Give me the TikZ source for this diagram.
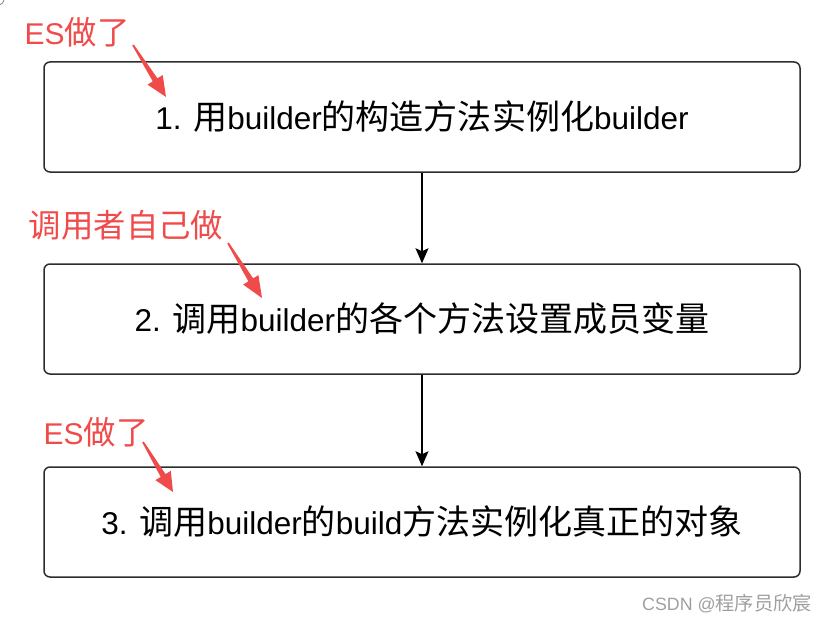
\documentclass[tikz,border=0pt]{standalone}
\usepackage{fontspec}
\setmainfont{Liberation Sans}
\newfontfamily\cjk[Scale=1.08]{Noto Sans CJK SC}
\usetikzlibrary{calc,arrows.meta}
\definecolor{annred}{RGB}{240,75,75}
\definecolor{boxline}{RGB}{45,45,45}
\newcommand{\annarrow}[2]{%
  \fill[annred] ($(#1)!0.9pt!90:(#2)$) -- ($(#1)!0.67!(#2)!2.8pt!90:(#2)$)
    -- ($(#1)!0.67!(#2)!9pt!90:(#2)$) -- (#2)
    -- ($(#1)!0.67!(#2)!9pt!-90:(#2)$) -- ($(#1)!0.67!(#2)!2.8pt!-90:(#2)$)
    -- ($(#1)!0.9pt!-90:(#2)$) -- cycle;}
\begin{document}
\begin{tikzpicture}[x=1pt,y=-1pt,
  stepbox/.style={draw=boxline, line width=1.5pt, rounded corners=6pt,
    minimum width=756pt, minimum height=110pt, inner sep=0pt,
    font=\fontsize{31.5}{36}\selectfont},
  flow/.style={draw=black, line width=1.3pt, -{Stealth[length=15pt,width=13pt,inset=3pt]}},
  annlabel/.style={text=annred, inner sep=0pt, font=\fontsize{30}{34}\selectfont}]
\useasboundingbox (0,0) rectangle (827,623);
\draw[gray, line width=0.8pt] (-2,-1) circle (6pt);
\node[stepbox] (b1) at (422,117) {1. {\cjk 用}builder{\cjk 的构造方法实例化}builder};
\node[stepbox] (b2) at (422,319) {2. {\cjk 调用}builder{\cjk 的各个方法设置成员变量}};
\node[stepbox] (b3) at (422,522) {3. {\cjk 调用}builder{\cjk 的}build{\cjk 方法实例化真正的对象}};
\draw[flow] (b1) -- (b2);
\draw[flow] (b2) -- (b3);
\node[annlabel] (a1) at (77,32) {ES{\cjk 做了}};
\node[annlabel] (a2) at (126,225) {\cjk 调用者自己做};
\node[annlabel] (a3) at (96,432) {ES{\cjk 做了}};
\coordinate (t1) at (133,45); \coordinate (p1) at (166,97);
\coordinate (t2) at (228,243); \coordinate (p2) at (262,298);
\coordinate (t3) at (143,442); \coordinate (p3) at (173,492);
\annarrow{t1}{p1}
\annarrow{t2}{p2}
\annarrow{t3}{p3}
\node[text=gray!75, inner sep=0pt, font=\fontsize{17.8}{18}\selectfont] (wm) at (727,604) {CSDN @{\cjk 程序员欣宸}};
\end{tikzpicture}
\end{document}
